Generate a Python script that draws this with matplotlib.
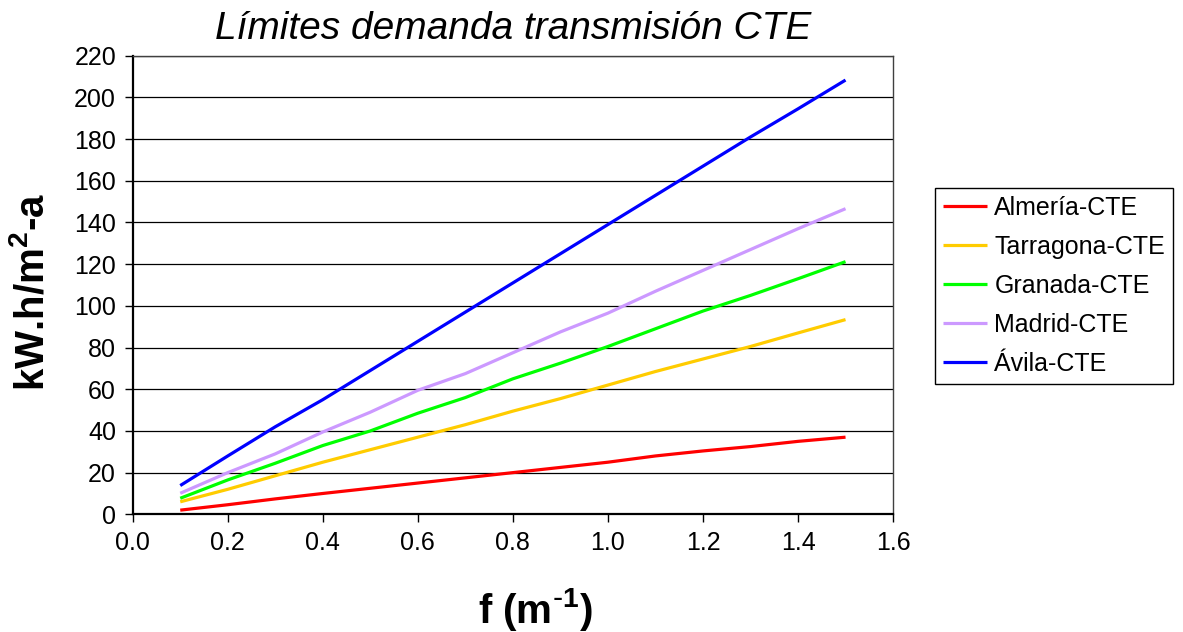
import matplotlib
matplotlib.use("Agg")
import matplotlib.pyplot as plt

plt.rcParams['font.family'] = ['Liberation Sans', 'DejaVu Sans']
plt.rcParams['mathtext.default'] = 'regular'

# Form factor f (m^-1)
f_values = [0.1, 0.2, 0.3, 0.4, 0.5, 0.6, 0.7, 0.8, 0.9, 1.0, 1.1, 1.2, 1.3, 1.4, 1.5]

almeria = [2, 4.6, 7.4, 10, 12.5, 15, 17.5, 20, 22.5, 25, 28, 30.4, 32.5, 35, 37]
tarragona = [6, 12, 18.5, 25, 31, 37, 43, 49.5, 55.5, 62, 68.5, 74.5, 80.5, 87, 93.4]
granada = [7.7, 16.5, 24.5, 33, 40, 48.5, 56, 65, 72.5, 80.5, 89, 97.5, 105, 113, 121.2]
madrid = [10.1, 20, 29, 39.5, 49, 59.5, 67.5, 77.5, 87.5, 96.5, 107, 117, 127, 137, 146.6]
avila = [13.8, 28, 42, 55, 69, 83, 97, 111, 125, 139, 153, 167, 181, 194.5, 208.3]

series_names = ['Almería-CTE', 'Tarragona-CTE', 'Granada-CTE', 'Madrid-CTE', 'Ávila-CTE']
series_values = [almeria, tarragona, granada, madrid, avila]
series_colors = ['#FF0000', '#FFCC00', '#00FF00', '#CC99FF', '#0000FF']

x_ticks = [0.0, 0.2, 0.4, 0.6, 0.8, 1.0, 1.2, 1.4, 1.6]
y_ticks = list(range(0, 221, 20))

fig = plt.figure(figsize=(11.83, 6.32), dpi=100)
ax = fig.add_axes([0.1122, 0.1862, 0.6427, 0.7257])

for name, vals, col in zip(series_names, series_values, series_colors):
    ax.plot(f_values, vals, color=col, lw=2.3, label=name, solid_capstyle='butt')

ax.set_xlim(0.0, 1.6)
ax.set_ylim(0, 220)
ax.set_xticks(x_ticks)
ax.set_xticklabels([f"{v:.1f}" for v in x_ticks])
ax.set_yticks(y_ticks)
ax.yaxis.grid(True, color='black', lw=0.9)
ax.set_axisbelow(True)

ax.tick_params(axis='both', direction='out', length=6, width=1, labelsize=18, pad=6, colors='black')
for side in ['left', 'bottom']:
    ax.spines[side].set_linewidth(1.6)
for side in ['top', 'right']:
    ax.spines[side].set_linewidth(1.0)
    ax.spines[side].set_color('#404040')

ax.set_title('Límites demanda transmisión CTE', fontsize=28, style='italic', pad=12)
ax.set_xlabel(r'f (m$^{\text{-}1}$)', fontsize=29, fontweight='bold', va='baseline')
ax.xaxis.set_label_coords(0.529, -0.237)
ax.set_ylabel(r'kW.h/m$^{2}$-a', fontsize=29, fontweight='bold', va='center')
ax.yaxis.set_label_coords(-0.132, 0.484)

leg = fig.legend(loc='upper left', bbox_to_anchor=(935 / 1183, 1 - 188 / 632),
                 fontsize=18, frameon=True, fancybox=False, framealpha=1,
                 edgecolor='black', handlelength=1.75, handletextpad=0.3,
                 labelspacing=0.6, borderpad=0.32, borderaxespad=0)
leg.get_frame().set_linewidth(1.0)

fig.savefig('out.png', dpi=100)
